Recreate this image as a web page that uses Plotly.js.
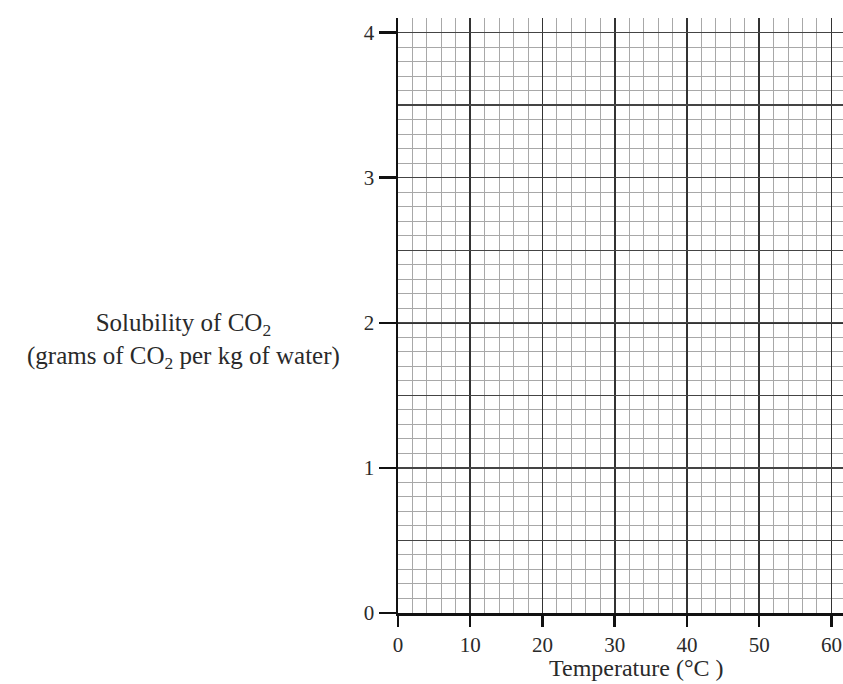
<!DOCTYPE html>
<html>
<head>
<meta charset="utf-8">
<script src="https://cdn.plot.ly/plotly-3.0.1.min.js"></script>
<style>html,body{margin:0;padding:0;background:#fff;}#chart{width:843px;height:684px;}</style>
</head>
<body>
<div id="chart"></div>
<script>
// Empty graph paper: no data series plotted
const temperature = [];
const solubility = [];
const xTickVals = [0, 10, 20, 30, 40, 50, 60];
const yTickVals = [0, 1, 2, 3, 4];
const yTitleText = "Solubility of CO<sub>2</sub><br>(grams of CO<sub>2</sub> per kg of water)";
const xTitleText = "Temperature (\u00B0C )";

const tickFont = {family: "Liberation Serif, Times New Roman, serif", size: 21, color: "#2a2a2a"};
const titleFont = {family: "Liberation Serif, Times New Roman, serif", size: 25, color: "#2a2a2a"};
const xTitleFont = {family: "Liberation Serif, Times New Roman, serif", size: 24, color: "#2a2a2a"};

const data = [
  {x: temperature, y: solubility, type: "scatter", mode: "markers", showlegend: false, hoverinfo: "skip"},
  {x: temperature, y: solubility, type: "scatter", mode: "markers", yaxis: "y2", xaxis: "x2", showlegend: false, hoverinfo: "skip"}
];

const layout = {
  width: 843, height: 684,
  margin: {l: 398, r: 0, t: 18, b: 71},
  paper_bgcolor: "#fff", plot_bgcolor: "#fff",
  font: tickFont,
  showlegend: false,
  xaxis: {
    range: [0, 61.6], tickvals: xTickVals, ticktext: xTickVals.map(String),
    ticks: "outside", ticklen: 11, tickwidth: 2.5, tickcolor: "#111",
    showline: true, linecolor: "#111", linewidth: 2.5,
    showgrid: true, gridcolor: "#333", gridwidth: 1.6,
    zeroline: false, tickfont: tickFont, ticklabelstandoff: 0, ticklabeloverflow: "allow",
    minor: {dtick: 2, tick0: 0, showgrid: true, gridcolor: "#a8a8a8", gridwidth: 1, ticks: ""},
    fixedrange: true
  },
  xaxis2: {
    range: [0, 61.6], overlaying: "x", showticklabels: false, showgrid: false, zeroline: false, showline: false, ticks: ""
  },
  yaxis: {
    range: [0, 4.1], tickvals: yTickVals, ticktext: yTickVals.map(String),
    ticks: "outside", ticklen: 17, tickwidth: 2.5, tickcolor: "#111",
    showline: true, linecolor: "#111", linewidth: 2.5,
    showgrid: true, gridcolor: "#333", gridwidth: 1.6,
    zeroline: false, tickfont: tickFont, ticklabelstandoff: 0,
    minor: {dtick: 0.1, tick0: 0, showgrid: true, gridcolor: "#a8a8a8", gridwidth: 1, ticks: ""},
    fixedrange: true
  },
  yaxis2: {
    range: [0, 4.1], overlaying: "y", dtick: 0.5, tick0: 0,
    showticklabels: false, ticks: "", showgrid: true, gridcolor: "#444", gridwidth: 1.4,
    zeroline: false, showline: false
  },
  annotations: [
    {text: yTitleText, xref: "paper", yref: "paper", x: -0.481, y: 0.457,
     xanchor: "center", yanchor: "middle", showarrow: false, align: "center", font: titleFont},
    {text: xTitleText, xref: "paper", yref: "paper", x: 0.535, y: -0.092,
     xanchor: "center", yanchor: "middle", showarrow: false, font: xTitleFont}
  ]
};

Plotly.newPlot("chart", data, layout, {staticPlot: true, displayModeBar: false});
</script>
</body>
</html>
